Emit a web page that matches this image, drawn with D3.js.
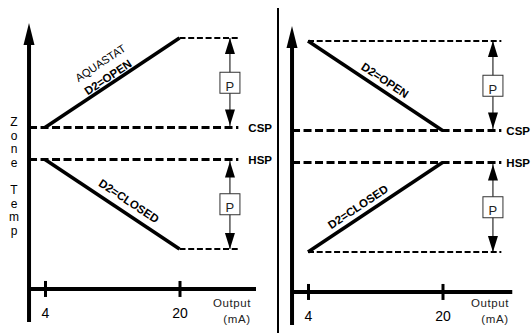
<!DOCTYPE html>
<html>
<head>
<meta charset="utf-8">
<script src="https://cdn.jsdelivr.net/npm/d3@7"></script>
<style>
  body { margin: 0; background: #fff; }
  svg { display: block; font-family: "Liberation Sans", Arial, sans-serif; }
</style>
</head>
<body>
<svg id="chart" width="531" height="335"></svg>
<script>
// Valores (saída em mA, temperatura em unidades relativas)
const ticksMA = [4, 20];
const spLabels = ["CSP", "HSP"];
const spTemps = [38, 28];
const pBand = 28;
const rampLabels = ["D2=OPEN", "D2=CLOSED"];
// temperatura em 4 mA e em 20 mA para cada rampa
const leftRamps = [[38, 66], [28, 0]];
const rightRamps = [[66, 38], [0, 28]];
const yTitle = "Zone Temp";
const xTitle = ["Output", "(mA)"];

const svg = d3.select("#chart");

const x = d3.scaleLinear().domain([4, 20]).range([0, 134.5]);
const y = d3.scaleLinear().domain([0, 66]).range([249, 38]);

const line = d3.line().x(d => x(d[0])).y(d => y(d[1]));

// limites dos eixos e das linhas tracejadas
const axisStart = 2.1, dashEnd = 27, arrowMA = 26;
const axisTemp = -12.5, yTopTemp = 70.7, yBottomTemp = -22.8;

const panels = [
  { ox: 45, oy: 0, ramps: leftRamps, gap: 10, axisEnd: 29.1, outX: 187,
    labels: [
      { text: "AQUASTAT", ramp: 0, m: 12.1, off: 23, bold: false },
      { text: rampLabels[0], ramp: 0, m: 11.95, off: 7, bold: true },
      { text: rampLabels[1], ramp: 1, m: 13.2, off: 12, bold: true }
    ] },
  { ox: 308, oy: 3, ramps: rightRamps, gap: 5, axisEnd: 28.3, outX: 182,
    labels: [
      { text: rampLabels[0], ramp: 0, m: 12.5, off: 10, bold: true },
      { text: rampLabels[1], ramp: 1, m: 10.6, off: 10, bold: true }
    ] }
];

// divisória entre os dois gráficos
svg.append("line")
  .attr("x1", 278).attr("x2", 278).attr("y1", 8).attr("y2", 333)
  .attr("stroke", "#000").attr("stroke-width", 2);

// título vertical "Zone Temp"
svg.append("g").selectAll("text")
  .data(yTitle.split(""))
  .enter()
  .append("text")
  .attr("x", 14)
  .attr("y", (d, i) => 122 + i * 13.6)
  .attr("dy", "0.35em")
  .attr("text-anchor", "middle")
  .attr("font-size", 12)
  .attr("fill", "#000")
  .text(d => d);

panels.forEach(p => {
  const g = svg.append("g").attr("transform", `translate(${p.ox},${p.oy})`);

  // eixo vertical com seta
  const ax = x(axisStart);
  g.append("line")
    .attr("x1", ax).attr("x2", ax)
    .attr("y1", y(yTopTemp) + 18).attr("y2", y(yBottomTemp))
    .attr("stroke", "#000").attr("stroke-width", 4);
  g.append("path")
    .attr("d", `M${ax},${y(yTopTemp)} L${ax + 5.5},${y(yTopTemp) + 22} L${ax - 5.5},${y(yTopTemp) + 22} Z`)
    .attr("fill", "#000");

  // eixo horizontal
  g.append("line")
    .attr("x1", ax).attr("x2", x(p.axisEnd))
    .attr("y1", y(axisTemp)).attr("y2", y(axisTemp))
    .attr("stroke", "#000").attr("stroke-width", 4);

  const xAxis = g.append("g")
    .attr("transform", `translate(0,${y(axisTemp)})`)
    .call(d3.axisBottom(x).tickValues(ticksMA).tickFormat(d3.format("d")).tickSize(8));
  xAxis.select(".domain").remove();
  xAxis.selectAll(".tick line")
    .attr("y1", -8).attr("y2", 8)
    .attr("stroke", "#000").attr("stroke-width", 3);
  xAxis.selectAll(".tick text")
    .attr("y", 19)
    .attr("font-size", 14)
    .attr("font-family", "Liberation Sans, Arial, sans-serif")
    .attr("fill", "#000");

  // título do eixo x
  g.selectAll(".xtitle")
    .data(xTitle)
    .enter()
    .append("text")
    .attr("class", "xtitle")
    .attr("x", (d, i) => p.outX + i * 5)
    .attr("y", (d, i) => 307 + i * 16 - p.oy)
    .attr("text-anchor", "middle")
    .attr("font-size", 11.5)
    .attr("letter-spacing", 0.6)
    .attr("fill", "#222")
    .text(d => d);

  // linhas de setpoint
  spTemps.forEach((t, i) => {
    g.append("line")
      .attr("x1", ax).attr("x2", x(dashEnd))
      .attr("y1", y(t)).attr("y2", y(t))
      .attr("stroke", "#000").attr("stroke-width", 3)
      .attr("stroke-dasharray", "8,3.5");
    g.append("text")
      .attr("x", x(dashEnd) + p.gap)
      .attr("y", y(t))
      .attr("dy", "0.36em")
      .attr("font-size", 11.5)
      .attr("font-weight", "bold")
      .text(spLabels[i]);
  });

  // rampas, limites e faixa proporcional
  p.ramps.forEach((r, i) => {
    const sp = spTemps[i];
    const limIdx = r[0] === sp ? 1 : 0;
    const lim = r[limIdx];

    g.append("path")
      .attr("d", line([[ticksMA[0], r[0]], [ticksMA[1], r[1]]]))
      .attr("stroke", "#000").attr("stroke-width", 3.5).attr("fill", "none");

    g.append("line")
      .attr("x1", x(ticksMA[limIdx])).attr("x2", x(dashEnd))
      .attr("y1", y(lim)).attr("y2", y(lim))
      .attr("stroke", "#000").attr("stroke-width", 2)
      .attr("stroke-dasharray", "6,2.7");

    const px = x(arrowMA);
    const yLim = y(lim), ySp = y(sp);
    const dir = yLim < ySp ? -1 : 1;
    const mid = (yLim + ySp) / 2;
    g.append("line")
      .attr("x1", px).attr("x2", px)
      .attr("y1", ySp).attr("y2", yLim)
      .attr("stroke", "#000").attr("stroke-width", 1);
    [[yLim, dir], [ySp + dir * 2, -dir]].forEach(([tip, d]) => {
      g.append("path")
        .attr("d", `M${px},${tip} L${px + 5},${tip - d * 16} L${px - 5},${tip - d * 16} Z`)
        .attr("fill", "#000");
    });
    g.append("rect")
      .attr("x", px - 10).attr("y", mid - 10.5)
      .attr("width", 20).attr("height", 21)
      .attr("fill", "#fff").attr("stroke", "#333").attr("stroke-width", 1);
    g.append("text")
      .attr("x", px).attr("y", mid + 8)
      .attr("text-anchor", "middle")
      .attr("font-size", 13)
      .attr("fill", "#222")
      .text("P");
  });

  // rótulos ao longo das rampas
  p.labels.forEach(l => {
    const r = p.ramps[l.ramp];
    const t = d3.scaleLinear().domain(ticksMA).range(r)(l.m);
    const dx = x(ticksMA[1]) - x(ticksMA[0]);
    const dy = y(r[1]) - y(r[0]);
    const len = Math.hypot(dx, dy);
    const ux = dx / len, uy = dy / len;
    const cx = x(l.m) + uy * l.off;
    const cy = y(t) - ux * l.off;
    const ang = Math.atan2(dy, dx) * 180 / Math.PI;
    g.append("text")
      .attr("transform", `translate(${cx},${cy}) rotate(${ang})`)
      .attr("dy", "0.36em")
      .attr("text-anchor", "middle")
      .attr("font-size", l.bold ? 11.5 : 11)
      .attr("font-weight", l.bold ? "bold" : "normal")
      .text(l.text);
  });
});
</script>
</body>
</html>
